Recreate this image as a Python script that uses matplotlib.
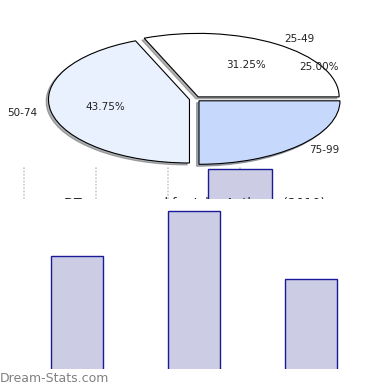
import matplotlib
matplotlib.use("Agg")
import matplotlib.pyplot as plt

# score bands and how many scores fell in each
bands = ['25-49', '50-74', '75-99']
counts = [5, 7, 4]
pie_colors = ['#ffffff', '#eaf1fe', '#c6d9fd']

title = 'DT score spread for John Anthony (2010)'

# the strip of the upper bar chart that shows through
strip_ticks = [0, 1, 2, 3]
strip_bar_x = [3]
strip_bar_top = [30]

fig = plt.figure(figsize=(3.9, 3.9), dpi=100)
H = 390.0

# strip: dotted grid + top of one bar, title clipped underneath
ax_s = fig.add_axes([0, (H - 199) / H, 1, 33 / H])
ax_s.set_xlim(-24 / 72, (390 - 24) / 72)
ax_s.set_ylim(0, 33)
ax_s.set_xticks(strip_ticks)
ax_s.grid(axis='x', color='#c8c8c8', linestyle=(0, (1, 1)), linewidth=1.2)
ax_s.set_axisbelow(True)
ax_s.bar(strip_bar_x, [v + 20 for v in strip_bar_top], bottom=-20, width=0.89,
         color='#ccccE5', edgecolor='#1a1a99', linewidth=1)
ax_s.text(0.5, 0.07, title, transform=ax_s.transAxes, ha='center',
          va='top', fontsize=9.2, color='#222222', clip_on=True)
ax_s.tick_params(length=0, labelbottom=False, labelleft=False)
for s in ax_s.spines.values():
    s.set_visible(False)

# lower bar chart
ax_b = fig.add_axes([0, (H - 369) / H, 1, 170 / H])
ax_b.bar(range(len(counts)), counts, width=0.444, color='#ccccE5',
         edgecolor='#1a1a99', linewidth=1)
ax_b.set_xlim(-77 / 117, (390 - 77) / 117)
ax_b.set_ylim(0.03, 0.03 + 170 / 22.71)
ax_b.axis('off')

# exploded pie on top
ax_p = fig.add_axes([0, (H - 200) / H, 1, 200 / H], zorder=5)
ax_p.patch.set_alpha(0)
wedges, texts, autotexts = ax_p.pie(
    counts, labels=bands, colors=pie_colors, autopct='%.2f%%',
    explode=[0.04] * 3, shadow=dict(ox=-0.012, oy=-0.022, shade=0.6),
    startangle=0, labeldistance=1.10, pctdistance=0.61,
    wedgeprops=dict(edgecolor='black', linewidth=0.8),
    textprops=dict(fontsize=7.5, color='#222222'))
ax_p.set_aspect('auto')
ax_p.set_xlim(-195 / 141, 195 / 141)
ax_p.set_ylim(-101 / 63.5, 99 / 63.5)
autotexts[2].set_position((0.88, 0.5))

fig.text(0.0, 0.012, 'Dream-Stats.com', fontsize=9, color='#808080',
         ha='left', va='bottom')

fig.savefig('out.png', dpi=100)
